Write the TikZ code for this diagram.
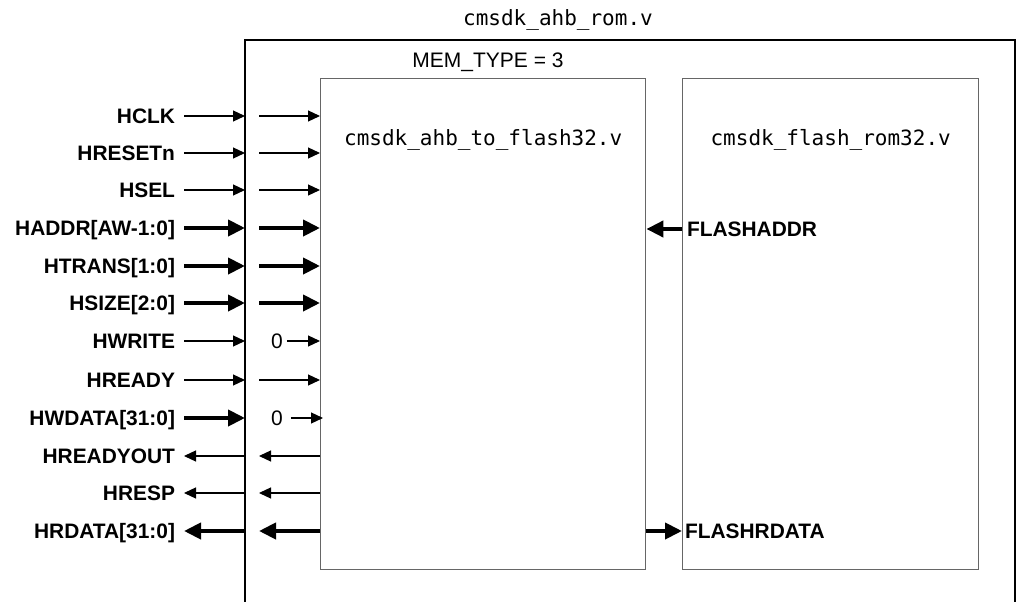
\documentclass[tikz,border=0pt]{standalone}
\usepackage{fontspec}
\setmainfont{Liberation Sans}
\setmonofont{DejaVu Sans Mono}
\usetikzlibrary{arrows.meta,calc}
\tikzset{
  rom_box/.style={draw=black, line width=1.6pt},
  module/.style={
    draw=black!60, line width=1.4pt, anchor=north west,
    minimum height=491pt, inner sep=0pt
  },
  file_name/.style={font=\ttfamily\fontsize{21}{25}\selectfont},
  param/.style={font=\fontsize{21}{25}\selectfont},
  sig_left/.style={
    font=\bfseries\fontsize{20.9}{25}\selectfont, anchor=east,
    inner sep=0pt, outer xsep=9pt, text height=15pt, text depth=0pt
  },
  sig_right/.style={
    font=\bfseries\fontsize{20.9}{25}\selectfont, anchor=west,
    inner sep=0pt, text height=15pt, text depth=0pt
  },
  const/.style={
    font=\fontsize{21}{25}\selectfont,
    inner sep=0pt, text height=15pt, text depth=0pt
  },
  wire/.style={-{Triangle[length=12pt,width=11pt]}, line width=1.2pt},
  bus/.style={-{Triangle[length=17pt,width=16pt]}, line width=4pt}
}

\begin{document}
\begin{tikzpicture}[x=1pt, y=-1pt]
\useasboundingbox (0,0) rectangle (1021,602);

% top level wrapper
\coordinate (rom_sw) at (245,602);
\coordinate (rom_nw) at (245,40);
\coordinate (rom_ne) at (1015,40);
\coordinate (rom_se) at (1015,602);
\coordinate (inner_tap) at (259,40);
\draw[rom_box] (rom_sw) -- (rom_nw) -- (rom_ne) -- (rom_se);
\node[file_name] (rom_name) at (558,20) {cmsdk\_ahb\_rom.v};

% sub modules
\node[module, minimum width=325pt] (ahb2flash) at (320,78) {};
\node[module, minimum width=296pt] (flashrom) at (682,78) {};
\node[param] (mem_type) at (488,62) {MEM\_TYPE = 3};
\node[file_name] (ahb2flash_name) at ($(ahb2flash.north)+(0,62)$) {cmsdk\_ahb\_to\_flash32.v};
\node[file_name] (flashrom_name) at ($(flashrom.north)+(0,62)$) {cmsdk\_flash\_rom32.v};

% AHB inputs
\node[sig_left] (hclk) at (184,116) {HCLK};
\draw[wire] (hclk.east) -- (hclk -| rom_nw);
\draw[wire] (hclk -| inner_tap) -- (hclk -| ahb2flash.west);

\node[sig_left] (hresetn) at (184,153) {HRESETn};
\draw[wire] (hresetn.east) -- (hresetn -| rom_nw);
\draw[wire] (hresetn -| inner_tap) -- (hresetn -| ahb2flash.west);

\node[sig_left] (hsel) at (184,190) {HSEL};
\draw[wire] (hsel.east) -- (hsel -| rom_nw);
\draw[wire] (hsel -| inner_tap) -- (hsel -| ahb2flash.west);

\node[sig_left] (haddr) at (184,228) {HADDR[AW-1:0]};
\draw[bus] (haddr.east) -- (haddr -| rom_nw);
\draw[bus] (haddr -| inner_tap) -- (haddr -| ahb2flash.west);

\node[sig_left] (htrans) at (184,266) {HTRANS[1:0]};
\draw[bus] (htrans.east) -- (htrans -| rom_nw);
\draw[bus] (htrans -| inner_tap) -- (htrans -| ahb2flash.west);

\node[sig_left] (hsize) at (184,303) {HSIZE[2:0]};
\draw[bus] (hsize.east) -- (hsize -| rom_nw);
\draw[bus] (hsize -| inner_tap) -- (hsize -| ahb2flash.west);

\node[sig_left] (hwrite) at (184,341) {HWRITE};
\draw[wire] (hwrite.east) -- (hwrite -| rom_nw);
\node[const, outer xsep=4pt] (hwrite_zero) at (277,341) {0};
\draw[wire] (hwrite_zero.east) -- (hwrite_zero -| ahb2flash.west);

\node[sig_left] (hready) at (184,380) {HREADY};
\draw[wire] (hready.east) -- (hready -| rom_nw);
\draw[wire] (hready -| inner_tap) -- (hready -| ahb2flash.west);

\node[sig_left] (hwdata) at (184,418) {HWDATA[31:0]};
\draw[bus] (hwdata.east) -- (hwdata -| rom_nw);
\node[const, outer xsep=8pt] (hwdata_zero) at (277,418) {0};
\draw[wire, shorten >=-3pt] (hwdata_zero.east) -- (hwdata_zero -| ahb2flash.west);

% AHB outputs
\node[sig_left] (hreadyout) at (184,456) {HREADYOUT};
\draw[wire] (hreadyout -| rom_nw) -- (hreadyout.east);
\draw[wire] (hreadyout -| ahb2flash.west) -- (hreadyout -| inner_tap);

\node[sig_left] (hresp) at (184,493) {HRESP};
\draw[wire] (hresp -| rom_nw) -- (hresp.east);
\draw[wire] (hresp -| ahb2flash.west) -- (hresp -| inner_tap);

\node[sig_left] (hrdata) at (184,531) {HRDATA[31:0]};
\draw[bus] (hrdata -| rom_nw) -- (hrdata.east);
\draw[bus] (hrdata -| ahb2flash.west) -- (hrdata -| inner_tap);

% flash interface
\node[sig_right, outer xsep=5pt] (flashaddr) at (682,229) {FLASHADDR};
\draw[bus] (flashaddr -| flashrom.west) -- (flashaddr -| ahb2flash.east);

\node[sig_right, outer xsep=3pt] (flashrdata) at (682,531) {FLASHRDATA};
\draw[bus] (flashrdata -| ahb2flash.east) -- (flashrdata -| flashrom.west);

\end{tikzpicture}
\end{document}
